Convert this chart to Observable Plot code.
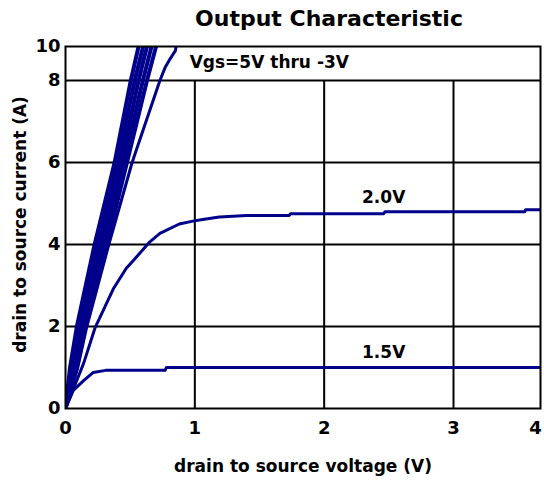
<!DOCTYPE html>
<html>
<head>
<meta charset="utf-8">
<script src="https://cdn.jsdelivr.net/npm/d3@7"></script>
<script src="https://cdn.jsdelivr.net/npm/@observablehq/plot@0.6"></script>
<style>
  html, body { margin: 0; padding: 0; background: #fff; }
</style>
</head>
<body>
<div id="chart"></div>
<script>
// Tick labels
const xTicks = [0, 1, 2, 3];
const xTickEnd = [4];
const yTicks = [0, 2, 4, 6, 8, 10];

// Curve names (gate-source voltage)
const vgsNames = ["5V", "4.5V", "4V", "3.5V", "3V", "2.5V", "2.0V", "1.5V"];

// Steep (linear-region) curves: drain current levels and drain-source voltages
const idSteep = [0, 1, 2, 4, 6, 8, 10];
const vds5V   = [0, 0.035, 0.088, 0.225, 0.38, 0.505, 0.565];
const vds45V  = [0, 0.05, 0.105, 0.25, 0.405, 0.535, 0.60];
const vds4V   = [0, 0.062, 0.12, 0.275, 0.43, 0.565, 0.63];
const vds35V  = [0, 0.075, 0.138, 0.30, 0.452, 0.598, 0.665];
const vds3V   = [0, 0.088, 0.155, 0.32, 0.475, 0.63, 0.70];

// Vgs = 2.5V
const vds25V = [0, 0.095, 0.165, 0.335, 0.515, 0.73, 0.77, 0.81, 0.85, 0.855];
const id25V  = [0, 1, 2, 4, 6, 8, 8.76, 9.29, 9.76, 10];

// Vgs = 2.0V
const vds20V = [0, 0.14, 0.23, 0.37, 0.47, 0.525, 0.65, 0.73, 0.88, 0.985, 1.06, 1.19, 1.4, 1.73, 1.74, 2.46, 2.47, 3.82, 3.83, 4];
const id20V  = [0, 1.1, 1.98, 2.92, 3.42, 3.61, 4.06, 4.27, 4.5, 4.57, 4.61, 4.67, 4.71, 4.71, 4.75, 4.75, 4.8, 4.8, 4.85, 4.85];

// Vgs = 1.5V
const vds15V = [0, 0.06, 0.14, 0.215, 0.31, 0.77, 0.78, 4];
const id15V  = [0, 0.44, 0.68, 0.88, 0.93, 0.93, 1.0, 1.0];

// Build tables
const steep = [
  [vgsNames[0], vds5V, idSteep],
  [vgsNames[1], vds45V, idSteep],
  [vgsNames[2], vds4V, idSteep],
  [vgsNames[3], vds35V, idSteep],
  [vgsNames[4], vds3V, idSteep]
];
const others = [
  [vgsNames[5], vds25V, id25V],
  [vgsNames[6], vds20V, id20V],
  [vgsNames[7], vds15V, id15V]
];
const toRows = list => list.flatMap(([vgs, xs, ys]) => xs.map((v, i) => ({vgs, vds: v, id: ys[i]})));
const steepRows = toRows(steep);
const otherRows = toRows(others);

const lineColor = "#00008b";
const fmt = d => String(d);

const chart = Plot.plot({
  width: 544,
  height: 482,
  marginLeft: 65,
  marginRight: 4,
  marginTop: 46,
  marginBottom: 74,
  style: {fontFamily: "DejaVu Sans", fontWeight: "bold", color: "#000", background: "#fff", overflow: "visible"},
  x: {type: "linear", domain: [0, 3, 4], range: [65, 453, 540]},
  y: {type: "linear", domain: [0, 8, 10], range: [408, 80, 46]},
  marks: [
    Plot.ruleY([2, 4, 6, 8], {stroke: "#000", strokeWidth: 2}),
    Plot.ruleX([1, 2, 3], {y1: 0, y2: 8, stroke: "#000", strokeWidth: 2}),
    Plot.line(steepRows, {x: "vds", y: "id", z: "vgs", stroke: lineColor, strokeWidth: 4, clip: true}),
    Plot.line(otherRows, {x: "vds", y: "id", z: "vgs", stroke: lineColor, strokeWidth: 3, clip: true}),
    Plot.frame({stroke: "#000", strokeWidth: 2}),
    Plot.axisX({ticks: xTicks, tickFormat: fmt, tickSize: 0, tickPadding: 13, fontSize: 18, fontWeight: "bold", label: null}),
    Plot.axisX({ticks: xTickEnd, tickFormat: fmt, tickSize: 0, tickPadding: 13, dx: -5, fontSize: 18, fontWeight: "bold", label: null}),
    Plot.axisY({ticks: yTicks, tickFormat: fmt, tickSize: 0, tickPadding: 5, fontSize: 18, fontWeight: "bold", label: null}),
    Plot.text(["Output Characteristic"], {text: d => d, frameAnchor: "top", lineAnchor: "middle", textAnchor: "middle", dx: 26, dy: -28, fontSize: 22, fontWeight: "bold", fill: "#000"}),
    Plot.text(["drain to source voltage (V)"], {text: d => d, frameAnchor: "bottom", lineAnchor: "middle", textAnchor: "middle", dy: 58, fontSize: 17, fontWeight: "bold", fill: "#000"}),
    Plot.text(["drain to source current (A)"], {text: d => d, frameAnchor: "left", lineAnchor: "middle", textAnchor: "middle", dx: -45, dy: -3, rotate: -90, fontSize: 17, fontWeight: "bold", fill: "#000"}),
    Plot.text(["Vgs=5V thru -3V"], {text: d => d, x: 0.96, y: 9.06, textAnchor: "start", fontSize: 17, fontWeight: "bold", fill: "#000"}),
    Plot.text(["2.0V"], {text: d => d, x: 2.46, y: 5.15, fontSize: 17, fontWeight: "bold", fill: "#000"}),
    Plot.text(["1.5V"], {text: d => d, x: 2.46, y: 1.37, fontSize: 17, fontWeight: "bold", fill: "#000"})
  ]
});
document.getElementById("chart").appendChild(chart);
</script>
</body>
</html>
